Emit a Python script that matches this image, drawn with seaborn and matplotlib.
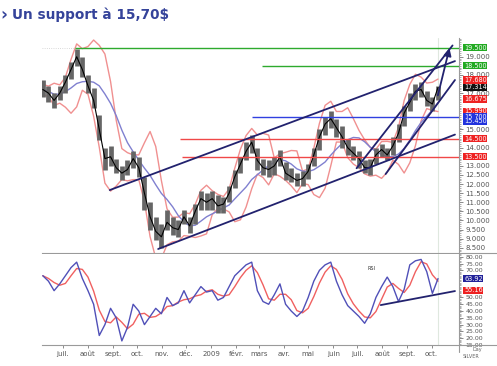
import numpy as np
import pandas as pd
import matplotlib
matplotlib.use("Agg")
import matplotlib.pyplot as plt
import matplotlib.dates as mdates
import matplotlib.transforms as mtransforms
from matplotlib.lines import Line2D
from matplotlib.ticker import MultipleLocator
import seaborn as sns

sns.set_theme(style="white")
plt.rcParams["font.family"] = ["DejaVu Sans"]

# ---------------- data (weekly) ----------------
first_week = "2008-06-06"
close = [17.2, 17.0, 16.6, 17.0, 17.6, 18.3, 19.0, 18.3, 17.4, 16.6,
         15.0, 13.4, 13.5, 12.9, 12.6, 12.8, 13.4, 12.9, 11.5, 10.2,
         9.4, 9.1, 9.9, 9.6, 9.5, 10.2, 9.7, 10.5, 11.2, 11.0,
         11.2, 10.8, 10.9, 11.5, 12.4, 13.1, 13.8, 14.3, 13.3, 12.9,
         12.8, 13.0, 13.5, 12.6, 12.4, 12.2, 12.3, 12.7, 13.6, 14.6,
         15.3, 15.6, 15.1, 14.6, 14.0, 13.7, 13.4, 12.9, 12.9, 13.6,
         13.9, 13.6, 14.1, 14.8, 15.9, 16.5, 17.1, 17.2, 16.6, 16.4, 17.314]
high = [17.7, 17.4, 17.0, 17.4, 18.0, 18.7, 19.45, 19.0, 18.0, 17.3,
        15.8, 14.0, 14.1, 13.4, 13.0, 13.3, 13.8, 13.5, 12.4, 11.0,
        10.2, 9.8, 10.6, 10.2, 10.0, 10.6, 10.2, 10.9, 11.6, 11.5,
        11.6, 11.4, 11.3, 11.9, 12.8, 13.5, 14.3, 14.7, 14.0, 13.4,
        13.3, 13.5, 13.9, 13.2, 12.9, 12.6, 12.7, 13.1, 14.0, 15.0,
        15.7, 16.0, 15.6, 15.2, 14.5, 14.1, 13.8, 13.3, 13.4, 14.0,
        14.2, 14.0, 14.6, 15.3, 16.3, 17.0, 17.5, 17.6, 17.1, 16.8, 17.4]
low = [16.8, 16.5, 16.2, 16.6, 17.0, 17.8, 18.5, 17.9, 17.0, 16.2,
       14.4, 12.8, 13.0, 12.6, 12.2, 12.5, 12.9, 12.4, 10.6, 9.5,
       8.9, 8.5, 9.5, 9.2, 9.1, 9.8, 9.3, 9.8, 10.6, 10.6,
       10.6, 10.4, 10.4, 11.0, 11.8, 12.6, 13.3, 13.7, 12.8, 12.5,
       12.4, 12.5, 13.0, 12.2, 12.1, 11.9, 11.9, 12.3, 13.0, 13.9,
       14.7, 15.1, 14.6, 14.0, 13.6, 13.3, 12.9, 12.6, 12.5, 13.1,
       13.5, 13.3, 13.6, 14.3, 15.2, 16.0, 16.6, 16.8, 16.3, 16.0, 16.6]
rsi = [66, 62, 55, 60, 66, 72, 76, 64, 55, 45,
       22, 30, 42, 35, 18, 28, 45, 40, 30, 36,
       42, 38, 50, 44, 46, 55, 46, 52, 58, 54,
       55, 48, 50, 58, 66, 70, 74, 76, 55, 47,
       45, 52, 60, 45, 40, 36, 40, 50, 62, 70,
       74, 76, 62, 52, 44, 40, 36, 31, 38, 50,
       58, 65, 58, 47, 56, 74, 77, 78, 69, 53, 63.92]

# analyst drawings (dates / prices)
chan_up_dates = ["2008-08-28", "2009-10-30"]; chan_up_vals = [11.67, 18.76]
chan_dn_dates = ["2008-10-27", "2009-10-30"]; chan_dn_vals = [8.43, 14.72]
steep1_dates = ["2009-06-30", "2009-10-27"]; steep1_vals = [12.87, 19.62]
steep2_dates = ["2009-08-05", "2009-10-30"]; steep2_vals = [12.55, 17.72]
arrow_dates = ["2009-10-08", "2009-10-24"]; arrow_vals = [16.73, 19.62]
rsi_tl_dates = ["2009-07-30", "2009-10-30"]; rsi_tl_vals = [44.4, 54.7]

h_vals = [19.5, 18.5, 15.7, 14.5, 13.5]
h_start = ["2008-07-16", "2009-03-05", "2009-02-20", "2008-11-23", "2008-11-26"]
h_colors = ["#2eaa2e", "#2eaa2e", "#3040e0", "#f04848", "#f04848"]

box_vals = [19.5, 18.5, 17.72, 17.314, 16.675, 15.99, 15.7, 15.45, 14.5, 13.5]
box_text = ["19.500", "18.500", "17.680", "17.314", "16.675", "15.990",
            "15.700", "15.450", "14.500", "13.500"]
box_cols = ["#22aa22", "#22aa22", "#ee2222", "#111111", "#ee2222", "#ee2222",
            "#2233dd", "#2233dd", "#ee2222", "#ee2222"]
price_ticks = [8.5, 9.0, 9.5, 10.0, 10.5, 11.0, 11.5, 12.0, 12.5, 13.0, 14.0, 15.0,
               17.0, 18.0, 19.0]
rsi_box_vals = [63.92, 55.16]
rsi_box_text = ["63.92", "55.16"]
rsi_box_cols = ["#222299", "#ee2222"]
rsi_ticks = [15, 20, 25, 30, 35, 40, 45, 50, 70, 75, 80]

month_labels = ["juil.", "août", "sept.", "oct.", "nov.", "déc.", "2009", "févr.",
                "mars", "avr.", "mai", "juin", "juil.", "août", "sept.", "oct."]

# ---------------- derived frame ----------------
dates = pd.date_range(first_week, periods=len(close), freq="7D")
df = pd.DataFrame({"date": dates, "close": close, "high": high, "low": low, "rsi": rsi})
mid = df["close"].rolling(4, min_periods=1).mean()
sd = df["close"].rolling(4, min_periods=2).std().bfill()
df["bb_up"] = mid + 2 * sd
df["bb_dn"] = mid - 2 * sd
df["ma"] = df["close"].rolling(8, min_periods=1).mean()
df["rsi_ma"] = df["rsi"].rolling(3, min_periods=1).mean()

# ---------------- figure ----------------
W, H = 497, 366
fig = plt.figure(figsize=(W / 100, H / 100), dpi=100)
L, R = 42 / W, 459 / W
ax = fig.add_axes([L, 1 - 253 / H, R - L, (253 - 38) / H])
axr = fig.add_axes([L, 1 - 345 / H, R - L, (345 - 254) / H], sharex=ax)

navy = "#22226e"
grey = "#9a9a9a"

# Bollinger + MA
sns.lineplot(data=df, x="date", y="bb_up", ax=ax, color="#f09090", lw=1.0, zorder=2)
sns.lineplot(data=df, x="date", y="bb_dn", ax=ax, color="#f09090", lw=1.0, zorder=2)
sns.lineplot(data=df, x="date", y="ma", ax=ax, color="#8080d0", lw=1.0, zorder=2)
# price bars
ax.vlines(df["date"], df["low"], df["high"], color="#666666", lw=3.4, zorder=3)
sns.lineplot(data=df, x="date", y="close", ax=ax, color="black", lw=0.8, zorder=4)

# horizontal levels
xend = pd.Timestamp("2009-11-04")
for v, s, c in zip(h_vals, h_start, h_colors):
    ax.hlines(v, pd.Timestamp(s), xend, color=c, lw=1.0, zorder=5)
ax.hlines(19.5, pd.Timestamp("2008-06-05"), pd.Timestamp("2008-07-16"),
          color="#cccccc", lw=0.6, ls=":", zorder=1)

# trend lines
for dd, vv in [(chan_up_dates, chan_up_vals), (chan_dn_dates, chan_dn_vals),
               (steep1_dates, steep1_vals), (steep2_dates, steep2_vals)]:
    ax.plot(pd.to_datetime(dd), vv, color=navy, lw=1.3, zorder=6)
ad = [mdates.date2num(pd.Timestamp(d)) for d in arrow_dates]
ax.annotate("", xy=(ad[1], arrow_vals[1]), xytext=(ad[0], arrow_vals[0]),
            arrowprops=dict(arrowstyle="-|>", color=navy, lw=1.3, mutation_scale=11),
            zorder=7)
ax.axvline(df["date"].iloc[-1], color="#dfe8df", lw=0.8, zorder=0)

ax.set_xlim(pd.Timestamp("2008-06-05"), xend)
ax.set_ylim(8.21, 20.03)
ax.set_xlabel(""); ax.set_ylabel("")
ax.yaxis.tick_right()
ax.set_yticks(price_ticks)
ax.set_yticklabels([f"{v:.3f}" for v in price_ticks])
ax.yaxis.set_minor_locator(MultipleLocator(0.1))
ax.tick_params(axis="y", which="major", right=True, left=False, length=3, width=0.6,
               color="#777777", labelsize=5, labelcolor="#555555", pad=1.5)
ax.tick_params(axis="y", which="minor", right=True, left=False, length=1.5, width=0.4,
               color="#777777")
ax.tick_params(axis="x", bottom=False, labelbottom=False)
for sp in ["left", "top"]:
    ax.spines[sp].set_visible(False)
for sp in ["right", "bottom"]:
    ax.spines[sp].set_color(grey); ax.spines[sp].set_linewidth(0.8)

trans = mtransforms.blended_transform_factory(ax.transAxes, ax.transData)
for v, t, c in zip(box_vals, box_text, box_cols):
    ax.text(1.012, v, t, transform=trans, fontsize=4.7, color="white", va="center",
            ha="left", clip_on=False, zorder=10,
            bbox=dict(boxstyle="square,pad=0.1", fc=c, ec="none"))

# ---------------- RSI ----------------
sns.lineplot(data=df, x="date", y="rsi_ma", ax=axr, color="#f06060", lw=1.0, zorder=3)
sns.lineplot(data=df, x="date", y="rsi", ax=axr, color="#5050b8", lw=1.0, zorder=4)
axr.plot(pd.to_datetime(rsi_tl_dates), rsi_tl_vals, color=navy, lw=1.3, zorder=5)
axr.axvline(df["date"].iloc[-1], color="#dfe8df", lw=0.8, zorder=0)
axr.text(pd.Timestamp("2009-07-19"), 70.5, "RSI", fontsize=3.5, color="#333333", ha="center")
axr.set_ylim(15, 82)
axr.set_xlabel(""); axr.set_ylabel("")
axr.yaxis.tick_right()
axr.set_yticks(rsi_ticks)
axr.set_yticklabels([f"{v:.2f}" for v in rsi_ticks])
axr.yaxis.set_minor_locator(MultipleLocator(1))
axr.tick_params(axis="y", which="major", right=True, left=False, length=3, width=0.6,
                color="#777777", labelsize=4.5, labelcolor="#555555", pad=1.5)
axr.tick_params(axis="y", which="minor", right=True, left=False, length=1.5, width=0.4,
                color="#777777")
mt = pd.date_range("2008-07-01", "2009-10-01", freq="MS")
axr.set_xticks(mt)
axr.set_xticklabels(month_labels)
axr.tick_params(axis="x", bottom=True, length=2, width=0.6, color="#777777",
                labelsize=5, labelcolor="#555555", pad=2)
for sp in ["left", "top"]:
    axr.spines[sp].set_visible(False)
for sp in ["right", "bottom"]:
    axr.spines[sp].set_color(grey); axr.spines[sp].set_linewidth(0.8)
transr = mtransforms.blended_transform_factory(axr.transAxes, axr.transData)
for v, t, c in zip(rsi_box_vals, rsi_box_text, rsi_box_cols):
    axr.text(1.012, v, t, transform=transr, fontsize=4.7, color="white", va="center",
             ha="left", clip_on=False, zorder=10,
             bbox=dict(boxstyle="square,pad=0.1", fc=c, ec="none"))

# separators extending to right edge
fig.add_artist(Line2D([R, 1], [1 - 253 / H] * 2, color=grey, lw=0.8))
fig.add_artist(Line2D([R, 1], [1 - 345 / H] * 2, color=grey, lw=0.8))
fig.add_artist(Line2D([R, R], [1 - 352 / H, 1 - 345 / H], color=grey, lw=0.8))
fig.text(477 / W, 1 - 349 / H, "Day", fontsize=3.5, color="#666666", ha="center", va="center")
fig.text(471 / W, 1 - 356 / H, "SILVER", fontsize=3.5, color="#666666", ha="center", va="center")

# title
fig.text(0.5 / W, 1 - 15 / H, "›", fontsize=12, weight="bold", color="#35439a",
         ha="left", va="center")
fig.text(12 / W, 1 - 15 / H, "Un support à 15,70$", fontsize=9.8, weight="bold",
         color="#35439a", ha="left", va="center")

fig.savefig("out.png", dpi=100, facecolor="white")
